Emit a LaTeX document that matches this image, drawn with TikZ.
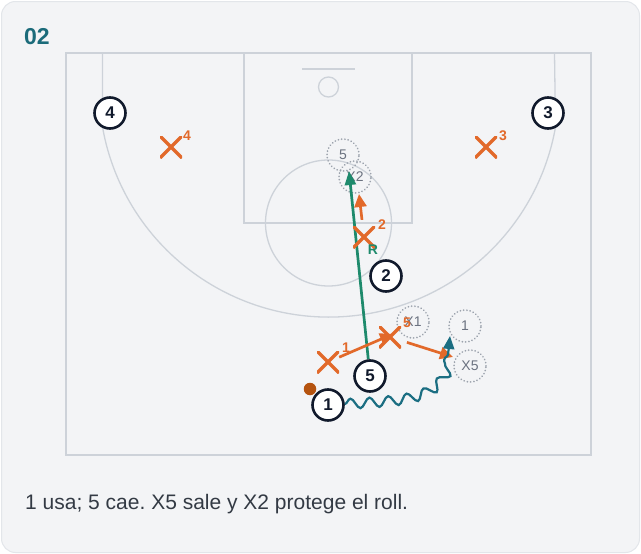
\documentclass[tikz,border=0pt]{standalone}
\usepackage{fontspec}
\setmainfont{Liberation Sans}
\usetikzlibrary{arrows.meta,decorations.pathmorphing}
\definecolor{cardbg}{HTML}{F3F4F6}
\definecolor{cardline}{HTML}{E3E6EA}
\definecolor{courtc}{HTML}{CDD2D9}
\definecolor{titlec}{HTML}{1B6B7A}
\definecolor{orangec}{HTML}{E2692A}
\definecolor{rollc}{HTML}{1E8A6C}
\definecolor{dribc}{HTML}{1B6E82}
\definecolor{navyc}{HTML}{111A2C}
\definecolor{ballc}{HTML}{B5530F}
\definecolor{ghostc}{HTML}{9CA3AD}
\definecolor{ghostt}{HTML}{6B7280}
\definecolor{textc}{HTML}{333A44}
\pgfdeclarelayer{courtlayer}
\pgfdeclarelayer{midlayer}
\pgfsetlayers{courtlayer,midlayer,main}
\begin{document}
\frenchspacing
\begin{tikzpicture}[x=1pt,y=-1pt,
  court/.style={draw=courtc, line width=1.3pt},
  offp/.style={circle, draw=navyc, line width=2.6pt, fill=white, minimum size=31pt, inner sep=0pt,
    text=navyc, font=\fontsize{17}{17}\selectfont\bfseries},
  defx/.style={minimum size=22pt, inner sep=0pt,
    path picture={\draw[orangec, line width=3.2pt]
      (path picture bounding box.north west) -- (path picture bounding box.south east)
      (path picture bounding box.north east) -- (path picture bounding box.south west);}},
  supx/.style={text=orangec, inner sep=0pt, font=\fontsize{14}{14}\selectfont\bfseries},
  ghost/.style={circle, draw=ghostc, line width=1.8pt, dash pattern=on 0.1pt off 3.2pt, line cap=round,
    minimum size=32pt, inner sep=0pt, text=ghostt, font=\fontsize{14}{14}\selectfont},
  rollarrow/.style={draw=rollc, line width=2.7pt, -{Triangle[length=14pt,width=11pt]}},
  darrow/.style={draw=orangec, line width=2.7pt, -{Triangle[length=13pt,width=12pt]}},
  dribble/.style={draw=dribc, line width=2.2pt, decorate,
    decoration={snake, amplitude=5pt, segment length=19pt, post length=12pt},
    -{Triangle[length=13pt,width=11pt]}},
  ballst/.style={circle, fill=ballc, minimum size=12.5pt, inner sep=0pt},
  rlab/.style={text=rollc, inner sep=0pt, font=\fontsize{14}{14}\selectfont\bfseries}
]
\useasboundingbox (0,0) rectangle (641,554);
\begin{pgfonlayer}{courtlayer}
\fill[white] (0,0) rectangle (641,554);
\draw[draw=cardline, fill=cardbg, line width=1pt, rounded corners=14pt] (1.5,1.5) rectangle (639.5,552.5);
\draw[court] (66,53) rectangle (591,455);
\draw[court] (244,53) rectangle (412,223);
\draw[court] (302,69) -- (355,69);
\draw[court] (328.5,87) circle[radius=10];
\draw[court] (328.5,223) circle[radius=63];
\draw[court] (102.5,53) -- (102.5,127) arc[start angle=170, end angle=10, radius=230] -- (554.5,53);
\end{pgfonlayer}

% title and caption
\node[anchor=base west, inner sep=0pt, text=titlec, font=\fontsize{23}{23}\selectfont\bfseries] (title) at (24,45) {02};
\node[anchor=base west, inner sep=0pt, text=textc, font=\fontsize{21}{21}\selectfont] (caption) at (25,509.5) {1 usa; 5 cae. X5 sale y X2 protege el roll.};

% offensive players
\node[offp] (p4) at (110,113) {4};
\node[offp] (p3) at (548,113) {3};
\node[offp] (p2) at (386,276) {2};
\node[offp] (p5) at (370,376) {5};
\node[offp] (p1) at (328,405) {1};
\node[ballst] (ball) at (310,389) {};

% defenders
\node[defx] (x4) at (171,147) {};
\node[supx] (x4n) at (187,136) {4};
\node[defx] (x3) at (486,147) {};
\node[supx] (x3n) at (503,136) {3};
\node[defx] (x2) at (364,237) {};
\node[supx] (x2n) at (382,225) {2};
\node[defx] (x1) at (328,362) {};
\node[supx] (x1n) at (346,348) {1};
\node[defx] (x5) at (390,337) {};
\node[supx] (x5n) at (407,323) {5};
\node[rlab] (rl) at (373,250) {R};

\coordinate (rollend) at (349,171);
\coordinate (x2end) at (359,194);
\coordinate (x1end) at (393,334);
\coordinate (x5end) at (453,357);
\coordinate (dc1) at (415,400);
\coordinate (dc2) at (446,400);
\coordinate (dend) at (450,336);

\begin{pgfonlayer}{midlayer}
\node[ghost] (g5) at (343,155) {5};
\node[ghost] (gx2) at (355,177) {X2};
\node[ghost] (gx1) at (413,322) {X1};
\node[ghost] (g1) at (465,326) {1};
\node[ghost] (gx5) at (470,366) {X5};
\draw[rollarrow] (p5) -- (rollend);
\draw[darrow, shorten <=6pt] (x2) -- (x2end);
\draw[darrow] (x1) -- (x1end);
\draw[darrow, shorten <=6pt] (x5) -- (x5end);
\draw[dribble] (p1) .. controls (dc1) and (dc2) .. (dend);
\end{pgfonlayer}
\end{tikzpicture}
\end{document}
